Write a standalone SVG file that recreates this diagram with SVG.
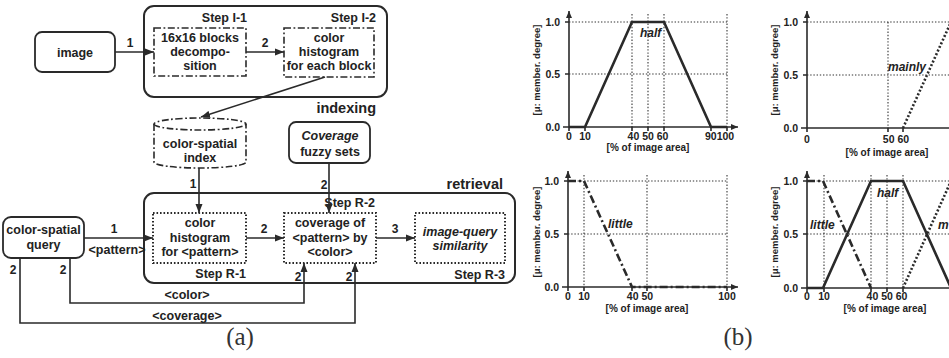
<svg xmlns="http://www.w3.org/2000/svg" width="949" height="358" viewBox="0 0 949 358">
<style>
text{font-family:"Liberation Sans",Arial,sans-serif;font-weight:bold;fill:#222;}
.t{font-size:12.5px;text-anchor:middle;}
.n{font-size:12px;text-anchor:middle;}
.e{font-size:12.5px;text-anchor:end;}
.big{font-size:14.5px;text-anchor:end;}
.it{font-style:italic;}
.cap{font-family:"Liberation Serif","Times New Roman",serif;font-weight:normal;font-size:25px;text-anchor:middle;fill:#333;}
.outer{fill:none;stroke:#2a2a2a;stroke-width:2;}
.box{fill:#fff;stroke:#2a2a2a;stroke-width:1.8;}
.dd{fill:#fff;stroke:#2a2a2a;stroke-width:1.6;stroke-dasharray:7 2.5 1.8 2.5;}
.dot{fill:#fff;stroke:#2a2a2a;stroke-width:2;stroke-dasharray:1.6 1.9;}
.c{fill:none;stroke:#2a2a2a;stroke-width:1.6;}
.ax{fill:none;stroke:#2a2a2a;stroke-width:1.6;}
.g{fill:none;stroke:#333;stroke-width:1.1;stroke-dasharray:1.4 1.8;}
.half{fill:none;stroke:#2a2a2a;stroke-width:2.6;stroke-linejoin:miter;}
.little{fill:none;stroke:#2a2a2a;stroke-width:2.6;stroke-dasharray:8 3 2 3;}
.mainly{fill:none;stroke:#2a2a2a;stroke-width:2.6;stroke-dasharray:2 2;}
.tk{font-size:10.5px;text-anchor:middle;}
.tks{font-size:10.5px;text-anchor:start;}
.tky{font-size:10.5px;text-anchor:end;}
.xl{font-size:10px;text-anchor:middle;}
.yl{font-size:9.5px;text-anchor:middle;}
.lab{font-size:12px;font-style:italic;}
</style>
<defs>
<marker id="arr" markerUnits="userSpaceOnUse" markerWidth="10" markerHeight="8" refX="9" refY="4" orient="auto">
<path d="M0,0.5 L9,4 L0,7.5 z" fill="#2a2a2a"/>
</marker>
<marker id="axa" markerUnits="userSpaceOnUse" markerWidth="8" markerHeight="6" refX="7" refY="3" orient="auto">
<path d="M0,0 L7,3 L0,6 z" fill="#2a2a2a"/>
</marker>
</defs>
<rect width="949" height="358" fill="#fff"/>

<!-- (a) -->
<g id="indexing">
<rect class="outer" x="144" y="6" width="243" height="91" rx="10"/>
<text class="big" x="376" y="113">indexing</text>
</g>
<g id="image">
<rect class="box" x="35" y="32" width="80" height="40" rx="7"/>
<text class="t" x="75" y="57">image</text>
</g>
<g id="stepI1">
<text class="e" x="247" y="22">Step I-1</text>
<rect class="dd" x="154" y="28" width="92" height="48"/>
<text class="t" x="200" y="42">16x16 blocks</text>
<text class="t" x="200" y="56">decompo-</text>
<text class="t" x="200" y="70">sition</text>
</g>
<g id="stepI2">
<text class="e" x="376" y="22">Step I-2</text>
<rect class="dd" x="284" y="28" width="90" height="49"/>
<text class="t" x="329" y="42">color</text>
<text class="t" x="329" y="56">histogram</text>
<text class="t" x="329" y="70">for each block</text>
</g>
<g id="index">
<path class="dd" d="M154,124 L154,162 A46,6 0 0 0 246,162 L246,124 A46,6 0 0 0 154,124 Z"/>
<path class="dd" d="M154,124 A46,6 0 0 0 246,124" fill="none"/>
<text class="t" x="200" y="148">color-spatial</text>
<text class="t" x="200" y="162">index</text>
</g>
<g id="coverage">
<rect class="box" x="289" y="122" width="81" height="41" rx="7"/>
<text class="t it" x="330" y="140">Coverage</text>
<text class="t" x="330" y="156">fuzzy sets</text>
</g>
<g id="retrieval">
<rect class="outer" x="144" y="193" width="371" height="90" rx="10"/>
<text class="big" x="503" y="189">retrieval</text>
</g>
<g id="query">
<rect class="box" x="3" y="217" width="81" height="41" rx="8"/>
<text class="t" x="43.5" y="234">color-spatial</text>
<text class="t" x="43.5" y="249">query</text>
</g>
<g id="stepR1">
<rect class="dot" x="153" y="213" width="93" height="50"/>
<text class="t" x="200" y="227">color</text>
<text class="t" x="200" y="242">histogram</text>
<text class="t" x="200" y="256">for &lt;pattern&gt;</text>
<text class="e" x="246" y="278">Step R-1</text>
</g>
<g id="stepR2">
<rect class="dot" x="284" y="213" width="92" height="50"/>
<text class="t" x="330" y="227">coverage of</text>
<text class="t" x="330" y="242">&lt;pattern&gt; by</text>
<text class="t" x="330" y="256">&lt;color&gt;</text>
<text class="e" x="375" y="207">Step R-2</text>
</g>
<g id="stepR3">
<rect class="dot" x="415" y="213" width="90" height="50"/>
<text class="t it" x="460" y="236">image-query</text>
<text class="t it" x="460" y="250">similarity</text>
<text class="e" x="505" y="279">Step R-3</text>
</g>

<g id="connectors">
<line class="c" x1="115" y1="52" x2="154" y2="52" marker-end="url(#arr)"/>
<text class="n" x="130" y="47">1</text>
<line class="c" x1="246" y1="52" x2="284" y2="52" marker-end="url(#arr)"/>
<text class="n" x="265" y="47">2</text>
<line class="c" x1="325" y1="77" x2="201" y2="117" marker-end="url(#arr)"/>
<line class="c" x1="199" y1="168" x2="199" y2="213" marker-end="url(#arr)"/>
<text class="n" x="193" y="188">1</text>
<line class="c" x1="329" y1="163" x2="329" y2="213" marker-end="url(#arr)"/>
<text class="n" x="324" y="189">2</text>
<line class="c" x1="84" y1="238" x2="153" y2="238" marker-end="url(#arr)"/>
<text class="n" x="114" y="233">1</text>
<text class="t" x="117" y="254">&lt;pattern&gt;</text>
<line class="c" x1="246" y1="238" x2="284" y2="238" marker-end="url(#arr)"/>
<text class="n" x="264" y="233">2</text>
<line class="c" x1="376" y1="238" x2="415" y2="238" marker-end="url(#arr)"/>
<text class="n" x="395" y="233">3</text>
<polyline class="c" points="70,258 70,303 304,303 304,263" marker-end="url(#arr)"/>
<text class="n" x="63" y="274">2</text>
<text class="n" x="298" y="281">2</text>
<text class="t" x="187" y="299">&lt;color&gt;</text>
<polyline class="c" points="20,258 20,323 355,323 355,263" marker-end="url(#arr)"/>
<text class="n" x="13" y="274">2</text>
<text class="n" x="349" y="281">2</text>
<text class="t" x="187" y="320">&lt;coverage&gt;</text>
</g>
<text class="cap" x="240" y="345">(a)</text>

<!-- (b) chart 1: half -->
<g id="chart-half">
<line class="g" x1="569" y1="22" x2="727" y2="22"/>
<line class="g" x1="569" y1="74" x2="727" y2="74"/>
<line class="g" x1="632" y1="14" x2="632" y2="127"/>
<line class="g" x1="648" y1="14" x2="648" y2="127"/>
<line class="g" x1="664" y1="14" x2="664" y2="127"/>
<line class="g" x1="727" y1="14" x2="727" y2="127"/>
<line class="ax" x1="569" y1="131" x2="569" y2="11" marker-end="url(#axa)"/>
<line class="ax" x1="563" y1="127" x2="738" y2="127" marker-end="url(#axa)"/>
<path class="ax" d="M565,22 H569 M565,74 H569 M585,127 V131 M632,127 V131 M648,127 V131 M664,127 V131 M711,127 V131 M727,127 V131"/>
<polyline class="half" points="569,127 585,127 632,22 664,22 711,127 727,127"/>
<text class="lab" x="640" y="37">half</text>
<text class="tky" x="560" y="26">1.0</text>
<text class="tky" x="560" y="78">0.5</text>
<text class="tky" x="560" y="131">0.0</text>
<text class="tk" x="569" y="140">0</text>
<text class="tk" x="585" y="140">10</text>
<text class="tk" x="648" y="140">40 50 60</text>
<text class="tks" x="705" y="140">90100</text>
<text class="xl" x="648" y="151">[% of image area]</text>
<text class="yl" transform="translate(540,70) rotate(-90)">[μ: member. degree]</text>
</g>

<!-- chart 2: mainly -->
<g id="chart-mainly">
<line class="g" x1="807" y1="22" x2="949" y2="22"/>
<line class="g" x1="807" y1="75" x2="949" y2="75"/>
<line class="g" x1="888" y1="22" x2="888" y2="128"/>
<line class="ax" x1="807" y1="132" x2="807" y2="11" marker-end="url(#axa)"/>
<line class="ax" x1="801" y1="128" x2="960" y2="128"/>
<path class="ax" d="M803,22 H807 M803,75 H807 M888,128 V132 M903,128 V132"/>
<line class="mainly" x1="903" y1="128" x2="951" y2="22"/>
<text class="lab" x="888" y="71">mainly</text>
<text class="tky" x="798" y="26">1.0</text>
<text class="tky" x="798" y="79">0.5</text>
<text class="tky" x="798" y="132">0.0</text>
<text class="tk" x="807" y="143">0</text>
<text class="tk" x="896" y="143">50 60</text>
<text class="xl" x="887" y="156">[% of image area]</text>
<text class="yl" transform="translate(778,70) rotate(-90)">[μ: member. degree]</text>
</g>

<!-- chart 3: little -->
<g id="chart-little">
<line class="g" x1="568" y1="181" x2="727" y2="181"/>
<line class="g" x1="568" y1="234" x2="727" y2="234"/>
<line class="g" x1="584" y1="175" x2="584" y2="287"/>
<line class="g" x1="647" y1="175" x2="647" y2="287"/>
<line class="g" x1="727" y1="175" x2="727" y2="287"/>
<line class="ax" x1="568" y1="291" x2="568" y2="171" marker-end="url(#axa)"/>
<line class="ax" x1="562" y1="287" x2="738" y2="287" marker-end="url(#axa)"/>
<path class="ax" d="M564,181 H568 M564,234 H568 M584,287 V291 M632,287 V291 M647,287 V291 M727,287 V291"/>
<polyline class="little" points="568,181 584,181 632,287 727,287"/>
<text class="lab" x="608" y="228">little</text>
<text class="tky" x="559" y="185">1.0</text>
<text class="tky" x="559" y="238">0.5</text>
<text class="tky" x="559" y="291">0.0</text>
<text class="tk" x="568" y="300">0</text>
<text class="tk" x="584" y="300">10</text>
<text class="tk" x="640" y="300">40 50</text>
<text class="tk" x="727" y="300">100</text>
<text class="xl" x="647" y="312">[% of image area]</text>
<text class="yl" transform="translate(540,232) rotate(-90)">[μ: member. degree]</text>
</g>

<!-- chart 4: all -->
<g id="chart-all">
<line class="g" x1="807" y1="181" x2="949" y2="181"/>
<line class="g" x1="807" y1="234" x2="949" y2="234"/>
<line class="g" x1="824" y1="175" x2="824" y2="288"/>
<line class="g" x1="871" y1="175" x2="871" y2="288"/>
<line class="g" x1="887" y1="175" x2="887" y2="288"/>
<line class="g" x1="903" y1="175" x2="903" y2="288"/>
<line class="ax" x1="807" y1="292" x2="807" y2="171" marker-end="url(#axa)"/>
<line class="ax" x1="801" y1="288" x2="960" y2="288"/>
<path class="ax" d="M803,181 H807 M803,234 H807 M824,288 V292 M871,288 V292 M887,288 V292 M903,288 V292"/>
<polyline class="little" points="807,181 823,181 871,288"/>
<polyline class="half" points="807,288 823,288 871,181 903,181 951,288"/>
<line class="mainly" x1="903" y1="288" x2="951" y2="181"/>
<text class="lab" x="810" y="229">little</text>
<text class="lab" x="877" y="197">half</text>
<text class="lab" x="938" y="229">m</text>
<text class="tky" x="798" y="185">1.0</text>
<text class="tky" x="798" y="238">0.5</text>
<text class="tky" x="798" y="292">0.0</text>
<text class="tk" x="807" y="300">0</text>
<text class="tk" x="824" y="300">10</text>
<text class="tk" x="887" y="300">40 50 60</text>
<text class="xl" x="885" y="312">[% of image area]</text>
<text class="yl" transform="translate(778,232) rotate(-90)">[μ: member. degree]</text>
</g>
<text class="cap" x="738" y="345">(b)</text>
</svg>
